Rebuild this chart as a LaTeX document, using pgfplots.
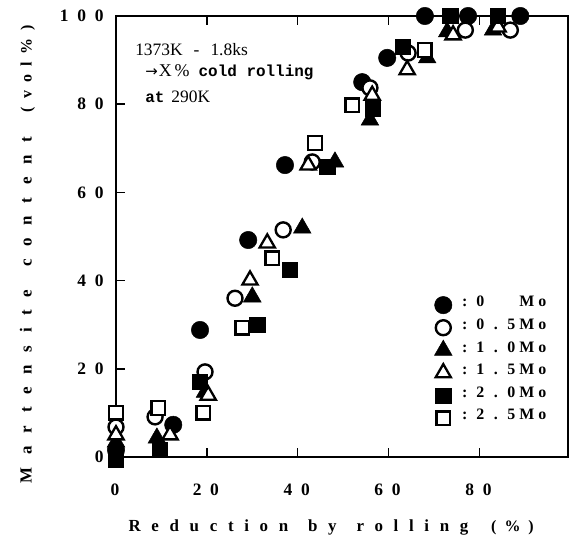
\documentclass[border=0pt]{standalone}
\usepackage{fontspec}
\setmainfont{Liberation Serif}
\newfontfamily\tickfont[LetterSpace=50]{Liberation Serif}
\newfontfamily\labelfont[LetterSpace=63]{Liberation Serif}
\newfontfamily\ylabelfont[LetterSpace=75]{Liberation Serif}
\newfontfamily\notefont{Liberation Serif}
\newfontfamily\monofont{Liberation Mono}
\newfontfamily\symfont{DejaVu Sans}
\usepackage{pgfplots}
\pgfplotsset{compat=1.18}

% fixed-width cells for the legend text
\newcommand\cl[1]{\makebox[15.5bp][c]{#1}}

% open and filled marker styles
\pgfplotsset{
  fcirc/.style={only marks, mark=*, mark size=8.7bp, mark options={solid, fill=black, draw=black, line width=0.5bp}},
  ocirc/.style={only marks, mark=*, mark size=7.5bp, mark options={solid, fill=white, draw=black, line width=2.4bp}},
  ftri/.style={only marks, mark=triangle*, mark size=10.2bp, mark options={solid, fill=black, draw=black, line width=0.5bp}},
  otri/.style={only marks, mark=triangle*, mark size=8.8bp, mark options={solid, fill=white, draw=black, line width=2.3bp}},
  fsq/.style={only marks, mark=square*, mark size=7.6bp, mark options={solid, fill=black, draw=black, line width=0.5bp}},
  osq/.style={only marks, mark=square*, mark size=6.7bp, mark options={solid, fill=white, draw=black, line width=2.3bp}},
}

\begin{document}
\begin{tikzpicture}
\begin{axis}[
  scale only axis, width=452bp, height=441bp,
  xmin=0, xmax=99.5, ymin=0, ymax=100,
  axis line style={line width=1.6bp},
  every tick/.style={line width=1.4bp, black},
  major tick length=9bp,
  tick align=inside,
  xtick={0,20,40,60,80}, xticklabels={0,20,40,60,80},
  ytick={0,20,...,100},
  xtick pos=both, ytick pos=left,
  /pgf/number format/assume math mode=true,
  ticklabel style={font=\tickfont\bfseries\fontsize{17.5}{17.5}\selectfont},
  xticklabel style={yshift=-23bp, xshift=-1bp},
  yticklabel style={xshift=-9bp},
  clip=false,
  legend style={draw=none, fill=none, at={(axis cs:69.4,37.5)}, anchor=north west,
    font=\bfseries\fontsize{16}{16}\selectfont,
    row sep=0pt, nodes={inner sep=0pt, text height=13bp, text depth=9.6bp}},
  legend cell align=left,
]
% 0 Mo
\addplot[fcirc] coordinates {(0,1.6) (12.6,7.3) (18.5,28.8) (29.1,49.2) (37.2,66.2)
  (54.2,85) (59.7,90.5) (68,100) (77.5,100) (89,100)};
% 0.5 Mo
\addplot[ocirc] coordinates {(0,6.8) (8.6,9.1) (19.6,19.3) (26.2,36) (36.8,51.5)
  (43.2,66.9) (55.9,83.7) (64.3,91.6) (76.9,96.8) (86.8,96.8)};
% 1.0 Mo
\addplot[ftri] coordinates {(0,3.4) (9,4.3) (19.6,14.7) (30,36.3) (41,51.9)
  (48.2,66.9) (55.9,76.4) (68.5,90.5) (72.9,96.4) (83,96.8)};
% 1.5 Mo
\addplot[otri] coordinates {(0,5) (11.9,5) (20.3,14) (29.5,40.1) (33.3,48.5)
  (42.3,66.2) (56.4,82) (64.1,87.8) (74.2,95.7) (84.1,97.5)};
% 2.0 Mo
\addplot[fsq] coordinates {(0,-0.7) (9.7,1.6) (18.5,17) (31.1,29.9) (38.3,42.4)
  (46.5,65.8) (56.6,79.1) (63.2,93) (73.6,100) (84.1,100)};
% 2.5 Mo
\addplot[osq] coordinates {(0,10) (9.3,11.1) (19.2,10) (27.8,29.3) (34.4,45.1)
  (43.8,71.2) (52,79.8) (68,92.3)};
\legend{\hspace{5bp}\cl{:}\cl{0}\cl{}\cl{}\cl{M}\cl{o},
        \hspace{5bp}\cl{:}\cl{0}\cl{.}\cl{5}\cl{M}\cl{o},
        \hspace{5bp}\cl{:}\cl{1}\cl{.}\cl{0}\cl{M}\cl{o},
        \hspace{5bp}\cl{:}\cl{1}\cl{.}\cl{5}\cl{M}\cl{o},
        \hspace{5bp}\cl{:}\cl{2}\cl{.}\cl{0}\cl{M}\cl{o},
        \hspace{5bp}\cl{:}\cl{2}\cl{.}\cl{5}\cl{M}\cl{o}}

% process note
\node[anchor=west, inner sep=0pt, font=\notefont\fontsize{17.5}{17.5}\selectfont] at (axis cs:4.2,92.3)
  {1373K\hspace{11bp}-\hspace{11bp}1.8ks};
\node[anchor=west, inner sep=0pt] at (axis cs:6.4,87.3)
  {{\symfont\fontsize{15}{15}\selectfont →}\hspace{1bp}{\notefont\fontsize{18}{18}\selectfont X\hspace{3bp}\%}\hspace{9bp}{\monofont\bfseries\fontsize{16}{16}\selectfont cold rolling}};
\node[anchor=west, inner sep=0pt] at (axis cs:6.4,81.6)
  {{\monofont\bfseries\fontsize{16}{16}\selectfont at}\hspace{7bp}{\notefont\fontsize{17.5}{17.5}\selectfont 290K}};

% axis titles
\node[font=\labelfont\bfseries\fontsize{17}{17}\selectfont] at (axis description cs:0.476,0) [yshift=-70bp]
  {Reduction\hspace{5bp} by\hspace{5bp} rolling\hspace{8bp} {\tickfont\fontsize{16}{16}\selectfont(\%)}};
\node[rotate=90, font=\ylabelfont\bfseries\fontsize{17}{17}\selectfont] at (axis description cs:-0.196,0.46)
  {Martensite\hspace{6bp} content\hspace{8bp} {\tickfont\fontsize{16}{16}\selectfont(vol\%)}};
\end{axis}
\pgfresetboundingbox
\path (current axis.south west) ++(-116bp,-92bp) rectangle ++(570bp,549bp);
\end{tikzpicture}
\end{document}
